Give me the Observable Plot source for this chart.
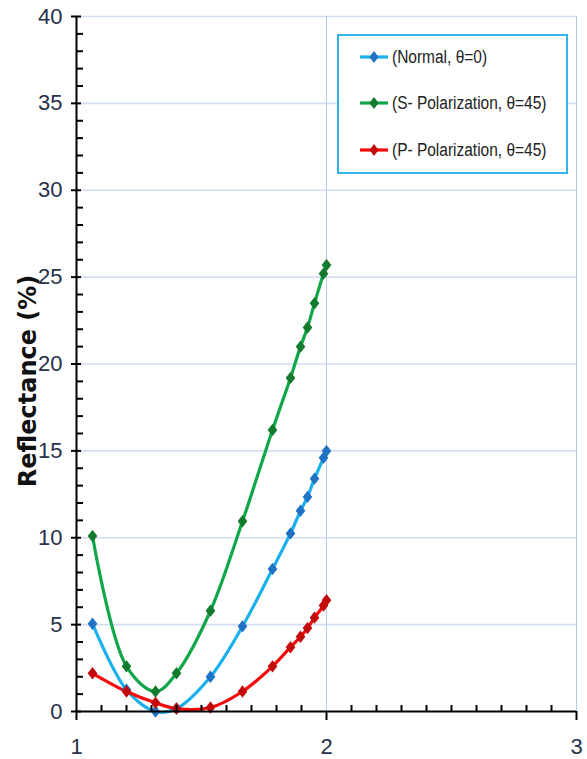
<!DOCTYPE html>
<html>
<head>
<meta charset="utf-8">
<script src="https://cdn.jsdelivr.net/npm/d3@7"></script>
<script src="https://cdn.jsdelivr.net/npm/@observablehq/plot@0.6"></script>
<style>
  html, body { margin: 0; padding: 0; background: #fff; }
  #chart { position: relative; width: 587px; height: 759px; }
  #legend {
    position: absolute; left: 337px; top: 34px; width: 227px; height: 136px;
    border: 2px solid #2fb4ee; background: #fff; box-sizing: content-box;
    font-family: "Liberation Sans", sans-serif; font-size: 18px; color: #222;
  }
  #legend .row { position: absolute; left: 20px; display: flex; align-items: center; height: 22px; white-space: nowrap; }
  #legend svg { margin-right: 3px; flex: none; }
  #legend span { display: inline-block; transform: scaleX(0.86); transform-origin: left center; }
</style>
</head>
<body>
<div id="chart"></div>
<script>
// Refractive index (x) and reflectance in percent for each polarization case
const index = [1.064, 1.2, 1.316, 1.4, 1.536, 1.664, 1.784, 1.856, 1.896, 1.924, 1.952, 1.988, 2.0];
const normal = [5.05, 1.25, 0.0, 0.17, 2.0, 4.9, 8.2, 10.25, 11.55, 12.35, 13.4, 14.6, 15.0];
const sPol = [10.1, 2.6, 1.15, 2.2, 5.8, 10.95, 16.2, 19.2, 21.0, 22.1, 23.5, 25.2, 25.7];
const pPol = [2.2, 1.15, 0.5, 0.17, 0.23, 1.15, 2.6, 3.7, 4.3, 4.8, 5.4, 6.1, 6.4];

const seriesNames = ["(Normal, θ=0)", "(S- Polarization, θ=45)", "(P- Polarization, θ=45)"];
const lineColors = ["#1ab0ec", "#12a64a", "#f40b0b"];
const markerColors = ["#1f72c4", "#137a2e", "#c30a0a"];

const xTicks = [1, 2, 3];
const yTicks = [0, 5, 10, 15, 20, 25, 30, 35, 40];
const xMinor = d3.range(11, 30).map(d => d / 10).filter(d => !xTicks.includes(d));
const yMinor = d3.range(0, 41).filter(d => d % 5 !== 0);

const series = [normal, sPol, pPol];
const rows = series.flatMap((vals, s) => vals.map((v, i) => ({series: seriesNames[s], s, x: index[i], y: v})));

// Slightly elongated diamond marker
const diamond = {
  draw(ctx, size) {
    const h = Math.sqrt(size / Math.PI);
    const w = h * 0.78;
    ctx.moveTo(0, -h); ctx.lineTo(w, 0); ctx.lineTo(0, h); ctx.lineTo(-w, 0); ctx.closePath();
  }
};

const tickFont = "Liberation Sans, sans-serif";

const plot = Plot.plot({
  width: 587,
  height: 759,
  marginLeft: 76,
  marginRight: 11,
  marginTop: 16,
  marginBottom: 48,
  style: {background: "#fff", overflow: "visible"},
  x: {domain: [1, 3], axis: null},
  y: {domain: [0, 40], axis: null},
  marks: [
    // grid
    Plot.ruleY(yTicks.filter(d => d > 0), {stroke: "#d3def2", strokeWidth: 1.6}),
    Plot.ruleX([2, 3], {stroke: "#b6caec", strokeWidth: 1}),
    // series lines
    ...series.map((vals, s) => Plot.line(rows.filter(r => r.s === s), {
      x: "x", y: "y", curve: "catmull-rom", stroke: lineColors[s], strokeWidth: 3.2
    })),
    // markers
    ...series.map((vals, s) => Plot.dot(rows.filter(r => r.s === s), {
      x: "x", y: "y", symbol: diamond, r: 6.2, fill: markerColors[s], stroke: "none"
    })),
    // axis lines
    Plot.ruleX([1], {stroke: "#000", strokeWidth: 2}),
    Plot.ruleY([0], {stroke: "#000", strokeWidth: 2}),
    // y ticks: majors cross the axis, minors point inward
    Plot.axisY({ticks: yTicks, tickSize: 10, dx: 5, text: null, stroke: "#000", strokeWidth: 2, label: null}),
    Plot.axisY({ticks: yMinor, tickSize: 6, dx: 7, text: null, stroke: "#000", strokeWidth: 2, label: null}),
    Plot.axisY({ticks: yTicks, tickSize: 0, tickPadding: 14, label: null, fontSize: 22,
      fontFamily: tickFont, fill: "#27314a", tickFormat: d => String(d), ariaLabel: "y-labels"}),
    // x ticks
    Plot.axisX({ticks: xTicks, tickSize: 9, text: null, stroke: "#000", strokeWidth: 2, label: null}),
    Plot.axisX({ticks: xMinor, tickSize: 6, dy: -6, text: null, stroke: "#000", strokeWidth: 2, label: null}),
    Plot.axisX({ticks: xTicks, tickSize: 0, tickPadding: 27, label: null, fontSize: 22,
      fontFamily: tickFont, fill: "#27314a", tickFormat: d => String(d), ariaLabel: "x-labels"}),
    // y axis title
    Plot.text(["Reflectance (%)"], {frameAnchor: "left", rotate: -90, dx: -48, dy: 17,
      textAnchor: "middle", fontSize: 24, fontWeight: "bold",
      fontFamily: "DejaVu Sans, Verdana, sans-serif",
      fill: "#111", text: d => d, style: "letter-spacing: 0.8px"})
  ]
});

// narrow the tick numbers horizontally
d3.select(plot).selectAll("g[aria-label='y-labels'] text, g[aria-label='x-labels'] text")
  .attr("transform", function () { return (this.getAttribute("transform") || "") + " scale(0.78,1)"; });

const chart = document.getElementById("chart");
chart.appendChild(plot);

// legend box drawn inside the plotting area
const legend = document.createElement("div");
legend.id = "legend";
const rowTops = [10, 56, 103];
seriesNames.forEach((name, s) => {
  const row = document.createElement("div");
  row.className = "row";
  row.style.top = rowTops[s] + "px";
  row.innerHTML = `<svg width="30" height="16" viewBox="0 0 30 16">
      <line x1="1" y1="8" x2="29" y2="8" stroke="${lineColors[s]}" stroke-width="3.2"/>
      <path d="M15,2 L19.5,8 L15,14 L10.5,8 Z" fill="${markerColors[s]}"/>
    </svg><span>${name}</span>`;
  legend.appendChild(row);
});
chart.appendChild(legend);
</script>
</body>
</html>
